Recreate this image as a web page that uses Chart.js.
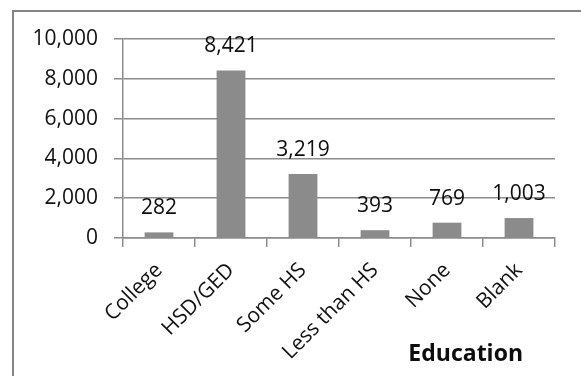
<!DOCTYPE html>
<html>
<head>
<meta charset="utf-8">
<script src="https://cdn.jsdelivr.net/npm/chart.js@4.4.1/dist/chart.umd.min.js"></script>
<style>
  body { margin: 0; background: #fff; overflow: hidden; }
  #frame { position: absolute; left: 12px; top: 10px; width: 620px; height: 420px; border: 2px solid #858585; }
  #chart { position: absolute; left: 0; top: 0; }
</style>
</head>
<body>
<div id="frame"></div>
<canvas id="chart" width="581" height="376"></canvas>
<script>
"use strict";

const categories = ["College", "HSD/GED", "Some HS", "Less than HS", "None", "Blank"];
const counts = [282, 8421, 3219, 393, 769, 1003];
const yTicks = [0, 2000, 4000, 6000, 8000, 10000];
const axisTitle = "Education";

const gridGrey = "#8c8c8c";
const font = "'Open Sans', Lato, sans-serif";

// value labels above each bar, plus the axis title at the lower right
const barLabels = {
  id: "barLabels",
  afterDatasetsDraw(chart) {
    const ctx = chart.ctx;
    const meta = chart.getDatasetMeta(0);
    ctx.save();
    ctx.fillStyle = "#0d0d0d";
    ctx.font = "21px " + font;
    ctx.textAlign = "center";
    ctx.textBaseline = "middle";
    meta.data.forEach((bar, i) => {
      ctx.fillText(counts[i].toLocaleString("en-US"), bar.x, bar.y - 24);
    });
    ctx.font = "bold 23px " + font;
    ctx.textAlign = "right";
    ctx.fillText(axisTitle, chart.chartArea.right - 32, chart.height - 22);
    ctx.restore();
  }
};

const myChart = new Chart(document.getElementById("chart").getContext("2d"), {
  type: "bar",
  data: {
    labels: categories,
    datasets: [{
      data: counts,
      backgroundColor: "#8b8b8b",
      barPercentage: 0.4,
      categoryPercentage: 1
    }]
  },
  options: {
    responsive: false,
    animation: false,
    layout: { padding: { top: 39, right: 26, left: 0, bottom: 0 } },
    plugins: { legend: { display: false }, tooltip: { enabled: false } },
    scales: {
      x: {
        afterFit(scale) { scale.height = 138; },
        grid: { drawOnChartArea: false, tickLength: 9, color: gridGrey, lineWidth: 1.5, offset: true },
        border: { color: gridGrey, width: 1.5 },
        ticks: {
          color: "#111",
          font: { family: font, size: 21 },
          minRotation: 45,
          maxRotation: 45,
          padding: 11
        }
      },
      y: {
        min: 0,
        max: 10000,
        afterFit(scale) { scale.width = 123; },
        afterBuildTicks(scale) { scale.ticks = yTicks.map(v => ({ value: v })); },
        grid: { tickLength: 9, color: gridGrey, lineWidth: 1.5 },
        border: { color: gridGrey, width: 1.5 },
        ticks: {
          color: "#111",
          font: { family: font, size: 21 },
          padding: 16,
          callback: v => v.toLocaleString("en-US")
        }
      }
    }
  },
  plugins: [barLabels]
});
</script>
</body>
</html>
